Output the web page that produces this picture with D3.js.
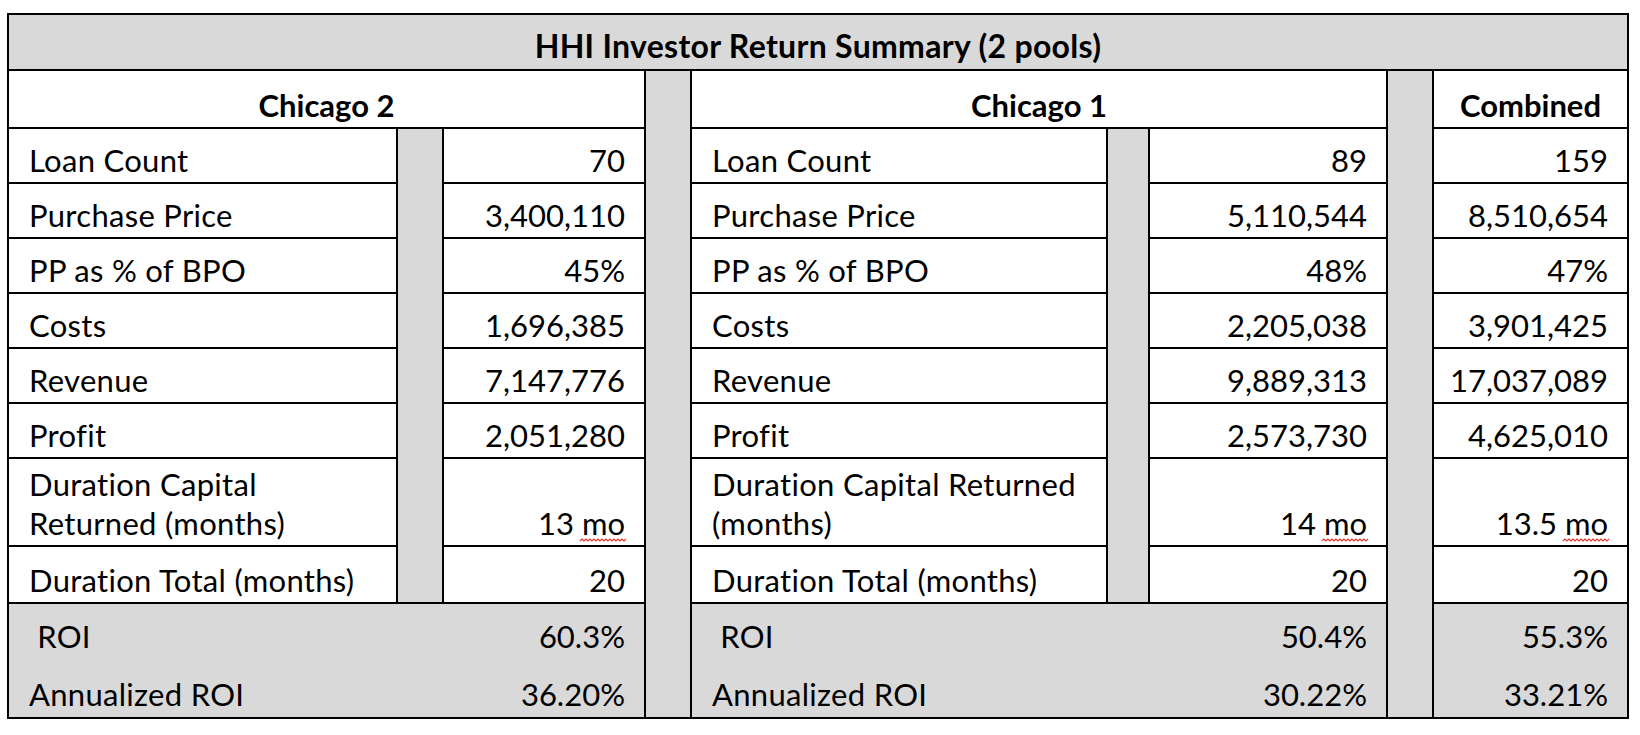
<!DOCTYPE html>
<html><head><meta charset="utf-8">
<script src="https://cdn.jsdelivr.net/npm/d3@7"></script>
<style>
html,body{margin:0;padding:0;background:#fff;}
svg{display:block;}
text{font-family:Lato,"Open Sans",sans-serif;fill:#000;font-feature-settings:"tnum" 1;font-variant-numeric:tabular-nums;}
</style></head>
<body><svg id="chart" width="1640" height="735"></svg>
<script>
// ---- data ----
const title = "HHI Investor Return Summary (2 pools)";
const sections = ["Chicago 2", "Chicago 1", "Combined"];
const labelsChicago2 = ["Loan Count","Purchase Price","PP as % of BPO","Costs","Revenue","Profit","Duration Capital|Returned (months)","Duration Total (months)"];
const labelsChicago1 = ["Loan Count","Purchase Price","PP as % of BPO","Costs","Revenue","Profit","Duration Capital Returned|(months)","Duration Total (months)"];
const valuesChicago2 = ["70","3,400,110","45%","1,696,385","7,147,776","2,051,280","13 mo","20"];
const valuesChicago1 = ["89","5,110,544","48%","2,205,038","9,889,313","2,573,730","14 mo","20"];
const valuesCombined = ["159","8,510,654","47%","3,901,425","17,037,089","4,625,010","13.5 mo","20"];
const roiLabels = [" ROI","Annualized ROI"];
const roiChicago2 = ["60.3%","36.20%"];
const roiChicago1 = ["50.4%","30.22%"];
const roiCombined = ["55.3%","33.21%"];

// ---- layout ----
const W = 1640, H = 735;
const L = 8, R = 1628, T = 14, B = 718;
const titleBot = 70, headBot = 128, roiTop = 603;
const rowEdges = [128,183,238,293,348,403,458,546,603];
const secs = [
  {name:sections[0], x0:L, x1:645, d0:397, d1:443, labels:labelsChicago2, values:valuesChicago2, roi:roiChicago2},
  {name:sections[1], x0:691, x1:1387, d0:1107, d1:1149, labels:labelsChicago1, values:valuesChicago1, roi:roiChicago1},
  {name:sections[2], x0:1433, x1:R, d0:null, d1:null, labels:null, values:valuesCombined, roi:roiCombined}
];
const seps = [[645,691],[1387,1433]];
const gray = "#d9d9d9";
const FS = 31, LS = 0.3;

const svg = d3.select("#chart");
const yRow = d3.scaleOrdinal().domain(d3.range(8)).range(rowEdges.slice(1)); // row bottom edges

// backgrounds
svg.append("rect").attr("x",0).attr("y",0).attr("width",W).attr("height",H).attr("fill","#fff");
svg.append("rect").attr("x",L).attr("y",T).attr("width",R-L).attr("height",titleBot-T).attr("fill",gray);
svg.append("rect").attr("x",L).attr("y",roiTop).attr("width",R-L).attr("height",B-roiTop).attr("fill",gray);
svg.selectAll("rect.sep").data(seps).join("rect").attr("class","sep")
  .attr("x",d=>d[0]).attr("y",titleBot).attr("width",d=>d[1]-d[0]).attr("height",B-titleBot).attr("fill",gray);
svg.selectAll("rect.div").data(secs.filter(s=>s.d0!==null)).join("rect").attr("class","div")
  .attr("x",d=>d.d0).attr("y",headBot).attr("width",d=>d.d1-d.d0).attr("height",roiTop-headBot).attr("fill",gray);

// lines
const lines = [];
lines.push([L,titleBot,R,titleBot]);
secs.forEach(s=>{
  lines.push([s.x0,headBot,s.x1,headBot]);
  lines.push([s.x0,roiTop,s.x1,roiTop]);
  rowEdges.slice(1,-1).forEach(y=>{
    if(s.d0!==null){ lines.push([s.x0,y,s.d0,y]); lines.push([s.d1,y,s.x1,y]); }
    else lines.push([s.x0,y,s.x1,y]);
  });
  if(s.d0!==null){ lines.push([s.d0,headBot,s.d0,roiTop]); lines.push([s.d1,headBot,s.d1,roiTop]); }
});
seps.forEach(p=>{ lines.push([p[0],titleBot,p[0],B]); lines.push([p[1],titleBot,p[1],B]); });
svg.selectAll("line.g").data(lines).join("line").attr("class","g")
  .attr("x1",d=>d[0]).attr("y1",d=>d[1]).attr("x2",d=>d[2]).attr("y2",d=>d[3])
  .attr("stroke","#000").attr("stroke-width",2);
svg.append("rect").attr("x",L).attr("y",T).attr("width",R-L).attr("height",B-T)
  .attr("fill","none").attr("stroke","#000").attr("stroke-width",2);

// title & headers
svg.append("text").attr("x",(L+R)/2).attr("y",titleBot-12).attr("text-anchor","middle")
  .attr("font-weight","bold").attr("font-size",32).attr("letter-spacing",0.3).text(title);
svg.selectAll("text.hd").data(secs).join("text").attr("class","hd")
  .attr("x",d=>(d.x0+d.x1)/2).attr("y",headBot-11).attr("text-anchor","middle")
  .attr("font-weight","bold").attr("font-size",FS).text(d=>d.name);

// rows
secs.forEach(s=>{
  const lx = s.x0 + 21, vx = s.x1 - 20;
  if(s.labels){
    s.labels.forEach((lab,i)=>{
      const parts = lab.split("|");
      const yb = yRow(i) - 11;
      parts.forEach((p,j)=>{
        svg.append("text").attr("x",lx).attr("y",yb-(parts.length-1-j)*39).attr("font-size",FS)
          .attr("letter-spacing",LS).text(p);
      });
    });
    roiLabels.forEach((lab,i)=>{
      svg.append("text").attr("x",lx).attr("y",i===0?648:706).attr("font-size",FS).attr("letter-spacing",LS)
        .style("white-space","pre").text(lab);
    });
  }
  const vt = svg.selectAll(null).data(s.values).join("text")
    .attr("x",vx).attr("y",(d,i)=>yRow(i)-11).attr("text-anchor","end").attr("font-size",FS).text(d=>d);
  // spell-check squiggle under "mo"
  vt.filter(d=>/ mo$/.test(d)).each(function(d){
    const tmp = svg.append("text").attr("font-size",FS).text("mo");
    const w = tmp.node().getComputedTextLength(); tmp.remove();
    const x1 = vx + 2, x0 = vx - w - 2, y = 6 + (+d3.select(this).attr("y"));
    let path = `M${x0},${y}`; let up = true;
    for(let x=x0+2;x<=x1;x+=2){ path += `L${x},${up?y-2:y}`; up=!up; }
    svg.append("path").attr("d",path).attr("fill","none").attr("stroke","#e8392a").attr("stroke-width",1.2);
  });
  svg.selectAll(null).data(s.roi).join("text")
    .attr("x",vx).attr("y",(d,i)=>i===0?648:706).attr("text-anchor","end").attr("font-size",FS).text(d=>d);
});
</script></body></html>
